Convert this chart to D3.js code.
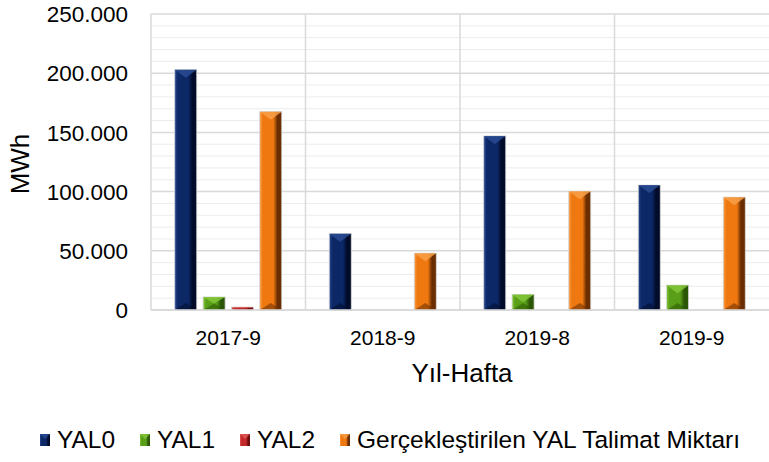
<!DOCTYPE html>
<html>
<head>
<meta charset="utf-8">
<script src="https://cdn.jsdelivr.net/npm/d3@7"></script>
<style>
  html, body { margin: 0; padding: 0; background: #fff; }
  #chart { width: 769px; height: 462px; }
  text { font-family: Arial, "Liberation Sans", sans-serif; fill: #000; }
</style>
</head>
<body>
<div id="chart"></div>
<script>
const categories = ["2017-9", "2018-9", "2019-8", "2019-9"];
const seriesNames = ["YAL0", "YAL1", "YAL2", "Gerçekleştirilen YAL Talimat Miktarı"];
const yal0 = [203000, 64500, 147000, 105500];
const yal1 = [11000, 0, 13000, 21000];
const yal2 = [2500, 0, 0, 0];
const gerceklesen = [167500, 48000, 100300, 95300];
const yTicks = [0, 50000, 100000, 150000, 200000, 250000];

// main / light / dark tones per series
const palette = [
  { main: "#0d2867", light: "#2a4b93", dark: "#020b2a" },
  { main: "#5a9f18", light: "#84c83a", dark: "#2b5606" },
  { main: "#c42a2c", light: "#e25a5a", dark: "#6e0c0c" },
  { main: "#ef7810", light: "#f8a048", dark: "#6a2e02" }
];

(function () {
  const W = 769, H = 462;
  const M = { top: 14, right: 0, bottom: 152, left: 151 };
  const values = [yal0, yal1, yal2, gerceklesen];

  const svg = d3.select("#chart").append("svg")
    .attr("width", W).attr("height", H);

  const defs = svg.append("defs");
  palette.forEach((p, i) => {
    const g = defs.append("linearGradient").attr("id", "grad" + i)
      .attr("x1", 0).attr("x2", 1).attr("y1", 0).attr("y2", 0);
    g.append("stop").attr("offset", 0).attr("stop-color", p.light);
    g.append("stop").attr("offset", 0.14).attr("stop-color", p.main);
    g.append("stop").attr("offset", 0.62).attr("stop-color", p.main);
    g.append("stop").attr("offset", 0.8).attr("stop-color", p.dark);
    g.append("stop").attr("offset", 1).attr("stop-color", p.dark);
  });

  const x = d3.scaleBand().domain(categories).range([M.left, W - M.right]);
  const xs = d3.scaleBand().domain(d3.range(4))
    .range([0, x.bandwidth()]).paddingInner(0.2235).paddingOuter(0.838);
  const y = d3.scaleLinear().domain([0, 250000]).range([H - M.bottom, M.top]);

  const fmt = d3.formatLocale({ decimal: ",", thousands: ".", grouping: [3], currency: ["", ""] }).format(",d");

  // minor gridlines
  svg.append("g").selectAll("line")
    .data(d3.range(0, 250001, 10000).filter(v => v % 50000 !== 0))
    .join("line")
    .attr("x1", M.left).attr("x2", W - M.right)
    .attr("y1", d => y(d)).attr("y2", d => y(d))
    .attr("stroke", "#ececec").attr("stroke-width", 1);

  // major gridlines
  svg.append("g").selectAll("line")
    .data(yTicks)
    .join("line")
    .attr("x1", M.left).attr("x2", W - M.right)
    .attr("y1", d => y(d)).attr("y2", d => y(d))
    .attr("stroke", "#d9d9d9").attr("stroke-width", 1.5);

  // vertical category separators
  svg.append("g").selectAll("line")
    .data(categories.slice(1).map(c => x(c)).concat([M.left]))
    .join("line")
    .attr("x1", d => d).attr("x2", d => d)
    .attr("y1", y(250000)).attr("y2", y(0))
    .attr("stroke", "#d9d9d9").attr("stroke-width", 1.5);

  // y tick labels
  svg.append("g").selectAll("text")
    .data(yTicks)
    .join("text")
    .attr("x", 128).attr("y", d => y(d))
    .attr("dy", "0.36em")
    .attr("text-anchor", "end")
    .attr("font-size", "22.5px")
    .text(d => fmt(d));

  // x tick labels
  svg.append("g").selectAll("text")
    .data(categories)
    .join("text")
    .attr("x", d => x(d) + x.bandwidth() / 2)
    .attr("y", 345)
    .attr("text-anchor", "middle")
    .attr("font-size", "21px")
    .text(d => d);

  svg.append("text")
    .attr("x", (M.left + W - M.right) / 2 + 2)
    .attr("y", 382)
    .attr("text-anchor", "middle")
    .attr("font-size", "26px")
    .text("Yıl-Hafta");

  svg.append("text")
    .attr("transform", `translate(29,${y(125000) + 2}) rotate(-90)`)
    .attr("text-anchor", "middle")
    .attr("font-size", "26px")
    .text("MWh");

  // bevelled bars
  const bars = [];
  values.forEach((arr, si) => arr.forEach((v, ci) => {
    if (v > 0) bars.push({ si, ci, v });
  }));

  const bar = svg.append("g").selectAll("g")
    .data(bars)
    .join("g")
    .attr("transform", d => `translate(${x(categories[d.ci]) + xs(d.si)},${y(d.v)})`);

  const bw = xs.bandwidth();
  const hOf = d => y(0) - y(d.v);

  bar.append("rect")
    .attr("width", bw).attr("height", hOf)
    .attr("fill", d => `url(#grad${d.si})`)
    .attr("stroke", "#d4d4d4").attr("stroke-width", 0.8);

  bar.append("path")
    .attr("d", d => {
      const t = Math.min(8, hOf(d) / 2);
      return `M0,0L${bw},0L${bw / 2},${t}Z`;
    })
    .attr("fill", d => palette[d.si].light)
    .attr("opacity", 0.85);

  bar.append("path")
    .attr("d", d => {
      const h = hOf(d), t = Math.min(7, h / 2);
      return `M0,${h}L${bw},${h}L${bw / 2},${h - t}Z`;
    })
    .attr("fill", d => palette[d.si].dark)
    .attr("opacity", 0.55);

  // bottom axis line
  svg.append("line")
    .attr("x1", M.left).attr("x2", W - M.right)
    .attr("y1", y(0)).attr("y2", y(0))
    .attr("stroke", "#d9d9d9").attr("stroke-width", 1.5);

  // legend
  const legX = [40, 140, 240, 340];
  const leg = svg.append("g").selectAll("g")
    .data(seriesNames)
    .join("g")
    .attr("transform", (d, i) => `translate(${legX[i]},434)`);

  leg.append("rect")
    .attr("width", 10).attr("height", 12)
    .attr("fill", (d, i) => `url(#grad${i})`);
  leg.append("path")
    .attr("d", "M0,0L10,0L5,5Z")
    .attr("fill", (d, i) => palette[i].light).attr("opacity", 0.8);

  leg.append("text")
    .attr("x", 17).attr("y", 14)
    .attr("font-size", "24.5px")
    .text(d => d);
})();
</script>
</body>
</html>
